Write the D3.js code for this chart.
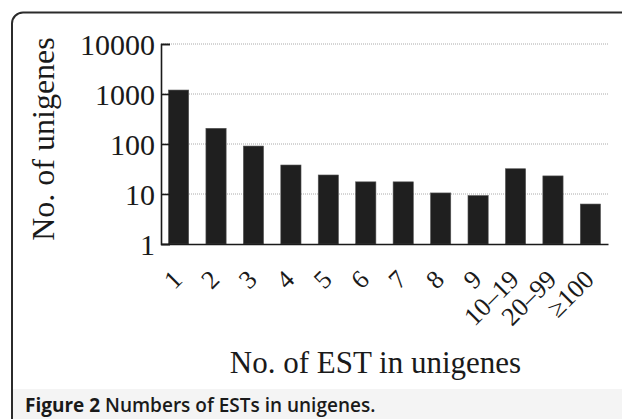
<!DOCTYPE html>
<html>
<head>
<meta charset="utf-8">
<script src="https://cdn.jsdelivr.net/npm/d3@7"></script>
<style>
  html, body { margin: 0; padding: 0; background: #fff; }
  svg { display: block; }
</style>
</head>
<body>
<script>
const categories = ["1","2","3","4","5","6","7","8","9","10\u201319","20\u201399","\u2265100"];
const counts = [1200, 206, 91, 38, 24, 17.5, 17.5, 10.5, 9.3, 32, 23, 6.3];
const yTickValues = [1, 10, 100, 1000, 10000];
const yTitle = "No. of unigenes";
const xTitle = "No. of EST in unigenes";
const captionBold = "Figure 2";
const captionText = " Numbers of ESTs in unigenes.";

(function () {
const W = 622, H = 419;
const svg = d3.select("body").append("svg").attr("width", W).attr("height", H);

// caption band + frame
svg.append("rect").attr("x", 12).attr("y", 389).attr("width", W).attr("height", 40).attr("fill", "#f4f4f4");
svg.append("rect").attr("x", 12).attr("y", 12.5).attr("width", W + 20).attr("height", H + 20)
  .attr("rx", 11).attr("fill", "none").attr("stroke", "#2b2b2b").attr("stroke-width", 2);

const pLeft = 161, pRight = 608, pTop = 44, pBottom = 244;
const x = d3.scaleBand().domain(categories).range([pLeft, pRight]).paddingInner(0.46).paddingOuter(0.2);
const y = d3.scaleLog().domain([1, 10000]).range([pBottom, pTop]);

// grid
svg.append("g").selectAll("line").data(yTickValues.slice(1)).join("line")
  .attr("x1", pLeft).attr("x2", pRight).attr("y1", d => y(d)).attr("y2", d => y(d))
  .attr("stroke", "#aaa").attr("stroke-width", 1).attr("stroke-dasharray", "1,1");

// bars
svg.append("g").selectAll("rect").data(counts).join("rect")
  .attr("x", (d, i) => x(categories[i]))
  .attr("width", x.bandwidth())
  .attr("y", d => y(d))
  .attr("height", d => pBottom - y(d))
  .attr("fill", "#1f1f1f")
  .attr("stroke", "#555").attr("stroke-width", 0.6);

// y axis
const yAxis = d3.axisLeft(y).tickValues(yTickValues).tickFormat(d3.format("d")).tickSize(-9).tickPadding(6);
const gy = svg.append("g").attr("transform", `translate(${pLeft},0)`).call(yAxis);
gy.select(".domain").attr("stroke", "#1a1a1a").attr("stroke-width", 1.6);
gy.selectAll(".tick line").attr("stroke", "#1a1a1a").attr("stroke-width", 1.6);
gy.selectAll(".tick text").attr("font-family", "Liberation Serif, serif").attr("font-size", 30)
  .attr("fill", "#1a1a1a").attr("dy", "0.34em");

// x axis
const xAxis = d3.axisBottom(x).tickSize(0).tickSizeOuter(0);
const gx = svg.append("g").attr("transform", `translate(0,${pBottom})`).call(xAxis);
gx.select(".domain").attr("stroke", "#1a1a1a").attr("stroke-width", 1.6);
gx.selectAll(".tick text")
  .attr("font-family", "Liberation Serif, serif").attr("font-size", 26).attr("fill", "#1a1a1a")
  .attr("text-anchor", "end").attr("dy", null).attr("y", null)
  .attr("transform", "translate(5,37) rotate(-45)");

// titles
svg.append("text").attr("transform", "translate(54,139) rotate(-90)")
  .attr("text-anchor", "middle").attr("font-family", "Liberation Serif, serif").attr("font-size", 32)
  .attr("fill", "#1a1a1a").text(yTitle);
svg.append("text").attr("x", 375.5).attr("y", 373)
  .attr("text-anchor", "middle").attr("font-family", "Liberation Serif, serif").attr("font-size", 31)
  .attr("fill", "#1a1a1a").text(xTitle);

const cap = svg.append("text").attr("x", 25).attr("y", 411.5)
  .attr("font-family", "Open Sans, sans-serif").attr("font-size", 19).attr("fill", "#1a1a1a");
cap.append("tspan").attr("font-weight", "bold").text(captionBold);
cap.append("tspan").attr("font-weight", "600").text(captionText);
})();
</script>
</body>
</html>
